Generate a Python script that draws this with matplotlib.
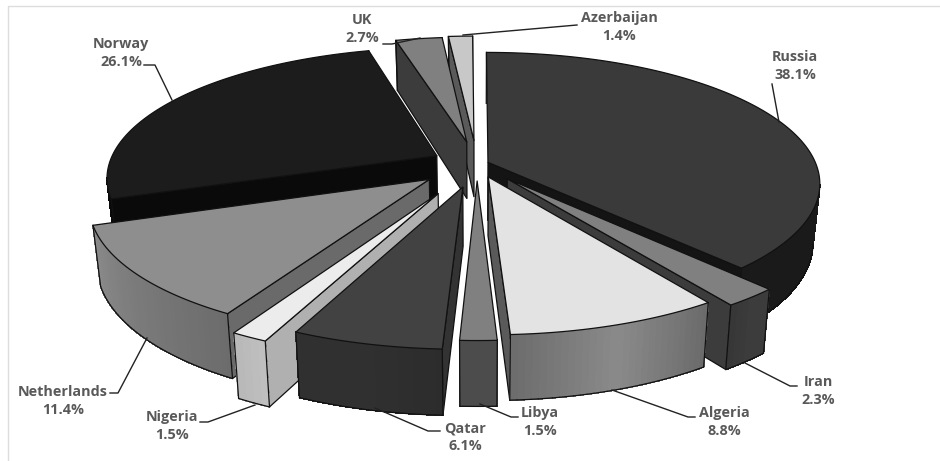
"""Exploded 3D pie of gas supply shares, greyscale, drawn by hand on a pixel-sized axes."""

import matplotlib
matplotlib.use("Agg")
import matplotlib.pyplot as plt
from matplotlib.patches import Polygon
import numpy as np

# -- Data --
countries = ["Russia", "Iran", "Algeria", "Libya", "Qatar", "Nigeria",
             "Netherlands", "Norway", "UK", "Azerbaijan"]
shares = [38.1, 2.3, 8.8, 1.5, 6.1, 1.5, 11.4, 26.1, 2.7, 1.4]

# -- Styles, one entry per slice --
explode = [0.036, 0.145, 0.105, 0.13, 0.18, 0.25, 0.185, 0.14, 0.18, 0.19]
top_grey = ["#3a3a3a", "#808080", "#e3e3e3", "#808080", "#424242", "#ececec",
            "#8e8e8e", "#1c1c1c", "#808080", "#c8c8c8"]
side_grey = ["#141414", "#3c3c3c", "#5a5a5a", "#555555", "#333333", "#b0b0b0",
             "#6a6a6a", "#0a0a0a", "#3c3c3c", "#5a5a5a"]
# outer wall shades, read across the wall from its clockwise start to its end
wall_grey = [
    ["#151515", "#1a1a1a", "#1a1a1a"],
    ["#3c3c3c", "#3c3c3c", "#363636"],
    ["#6a6a6a", "#8a8a8a", "#6c6c6c"],
    ["#4c4c4c", "#4c4c4c", "#4c4c4c"],
    ["#2c2c2c", "#303030", "#303030"],
    ["#c0c0c0", "#bcbcbc", "#b8b8b8"],
    ["#6c6c6c", "#7a7a7a", "#8a8a8a"],
    ["#0a0a0a", "#0a0a0a", "#0a0a0a"],
    ["#3c3c3c", "#3c3c3c", "#3c3c3c"],
    ["#808080", "#808080", "#808080"],
]
draw_order = [9, 8, 7, 0, 6, 5, 1, 2, 3, 4]

label_xy = [(795, 66), (818, 391), (724, 422), (540, 422), (465, 437),
            (172, 426), (63, 401), (121, 53), (362, 29), (619, 27)]
leaders = [
    [(772, 84), (779, 122)],
    [(797, 386), (790, 386), (745, 363)],
    [(695, 417), (688, 417), (612, 390)],
    [(518, 417), (511, 417), (480, 404)],
    [(440, 431), (428, 431), (375, 408)],
    [(200, 422), (208, 422), (255, 405)],
    [(110, 393), (118, 393), (147, 338)],
    [(144, 65), (155, 65), (172, 100)],
    [(383, 44), (392, 44), (420, 38)],
    [(463, 35), (577, 25)],
]

# -- Projection --
CX, CY = 477, 164
RX, RY = 328, 128
PERSP = 0.16
DEPTH = 58
BOTTOM_SHRINK = 0.98
LINE = "#111111"


def project(u, v, bottom=False):
    s = 1 / (1 - PERSP * v)
    x = CX + RX * u * s
    y = CY + RY * v * s
    if bottom:
        x = CX + (x - CX) * BOTTOM_SHRINK
        y = y + DEPTH * (1 + 0.12 * v)
    return x, y


def rim_point(angle, off):
    return np.sin(angle) + off[0], -np.cos(angle) + off[1]


fig = plt.figure(figsize=(9.4, 4.61), dpi=100)
ax = fig.add_axes([0, 0, 1, 1])
ax.set_xlim(0, 940)
ax.set_ylim(461, 0)
ax.axis("off")

# thin frame of the original slide
ax.plot([8, 8, 940], [461, 6, 6], color="#dddddd", lw=1)

edges = np.radians(np.concatenate([[0], np.cumsum(shares)]) * 3.6)
z = 2

for i in draw_order:
    a0, a1 = edges[i], edges[i + 1]
    mid = (a0 + a1) / 2
    off = (explode[i] * np.sin(mid), -explode[i] * np.cos(mid))
    angles = np.linspace(a0, a1, max(4, int(np.degrees(a1 - a0))))
    uv = [rim_point(a, off) for a in angles]

    # radial walls, only those turned towards the viewer
    walls = []
    if np.sin(a0) < -1e-9:
        walls.append(a0)
    if np.sin(a1) > 1e-9:
        walls.append(a1)
    for a in walls:
        p = rim_point(a, off)
        quad = [project(*off), project(*p), project(*p, True), project(*off, True)]
        z += 1
        ax.add_patch(Polygon(quad, closed=True, facecolor=side_grey[i], edgecolor=LINE,
                             lw=0.9, zorder=z))

    # outer wall, split so it can take a sideways gradient
    shade = np.array([matplotlib.colors.to_rgb(c) for c in wall_grey[i]])
    z += 1
    for k in range(len(uv) - 1):
        t = (k + 0.5) / (len(uv) - 1)
        col = [np.interp(t, [0, 0.5, 1], shade[:, c]) for c in range(3)]
        quad = [project(*uv[k]), project(*uv[k + 1]),
                project(*uv[k + 1], True), project(*uv[k], True)]
        # clockwise on screen means x falls along the front of the pie
        if quad[1][0] >= quad[0][0]:
            continue
        # no antialiasing here, otherwise the seams between quads show as ribs
        ax.add_patch(Polygon(quad, closed=True, facecolor=col, edgecolor=col,
                             lw=0.5, zorder=z, antialiased=False))
    z += 1
    rim = [project(*p, True) for p in uv]
    for k in range(len(rim) - 1):
        if rim[k + 1][0] < rim[k][0]:
            ax.plot([rim[k][0], rim[k + 1][0]], [rim[k][1], rim[k + 1][1]],
                    color=LINE, lw=0.9, zorder=z, solid_capstyle="round")
    for p in (uv[0], uv[-1]):
        top, bot = project(*p), project(*p, True)
        ax.plot([top[0], bot[0]], [top[1], bot[1]], color=LINE, lw=0.9, zorder=z)
    z += 1
    outline = [project(*off)] + [project(*p) for p in uv]
    ax.add_patch(Polygon(outline, closed=True, facecolor=top_grey[i], edgecolor=LINE,
                         lw=0.9, zorder=z, joinstyle="round"))

# -- Labels --
z += 1
for name, share, (lx, ly), line in zip(countries, shares, label_xy, leaders):
    ax.text(lx, ly, f"{name}\n{share}%", ha="center", va="center", family="Open Sans",
            fontweight="bold", fontsize=10.4, color="#595959", linespacing=1.3, zorder=z)
    xs, ys = zip(*line)
    ax.plot(xs, ys, color="#222222", lw=1.0, zorder=z)

fig.savefig("out.png", dpi=100)
